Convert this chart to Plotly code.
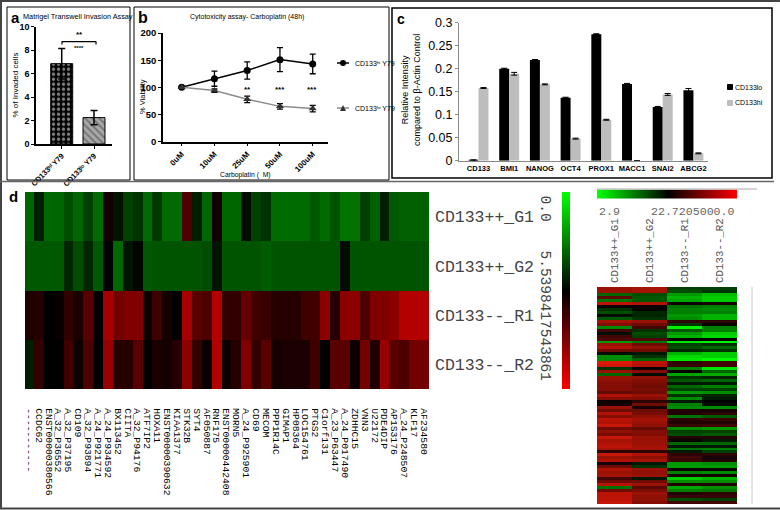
import plotly.graph_objects as go

W, H = 780, 510

# Panel a
a_cats = ["CD133ʰⁱ Y79", "CD133ˡᵒ Y79"]
a_vals = [6.85, 2.25]
a_errs = [1.3, 0.6]
# Panel b
b_cats = ["0uM", "10uM", "25uM", "50uM", "100uM"]
b_hi = [100, 116, 131, 151, 143]
b_hi_err = [0, 14, 16, 22, 18]
b_lo = [100, 94, 78, 65, 61]
b_lo_err = [2, 3, 6, 5, 6]
# Panel c
c_cats = ["CD133", "BMI1", "NANOG", "OCT4", "PROX1", "MACC1", "SNAI2", "ABCG2"]
c_lo = [0.001, 0.2, 0.219, 0.137, 0.275, 0.167, 0.117, 0.153]
c_lo_err = [0.001, 0.001, 0.001, 0.001, 0.001, 0.001, 0.001, 0.004]
c_hi = [0.158, 0.189, 0.166, 0.048, 0.089, 0, 0.144, 0.016]
c_hi_err = [0.001, 0.003, 0.001, 0.001, 0.001, 0, 0.002, 0.001]
# Panel d, wide heatmap
d_labels = ["-----------", "CCDC62", "ENST00000380566", "A_32_P36552", "A_32_P37195", "CD109",
            "A_32_P93894", "A_24_P921771", "A_24_P934592", "BX113452", "CIITA", "A_32_P94176",
            "ATF7IP2", "HOXA11", "ENST00000390632", "KIAA1377", "STK32B", "SYT4", "AF050887",
            "RNF175", "ENST00000442408", "MORN5", "A_24_P925901", "CD69", "MECOM", "PPP1R14C",
            "GIMAP1", "HP08364", "LOC154761", "PTGS2", "C1orf131", "A_23_P63447", "A_24_P017490",
            "ZDHHC15", "VNN3", "U22172", "PDE4DIP", "AP1S3176", "A_24_P248507", "KLF17", "AF234580"]
d_rows = ["CD133++_G1", "CD133++_G2", "CD133--_R1", "CD133--_R2"]
d_g1 = [-.4, -.12, -.4, -.4, -.3, -.4, -.25, -.42, .08, -.08, -.25, -.2, -.42, -.22, -.42, -.42, .3, -.12,
        -.4, .08, -.4, -.4, -.05, -.25, -.2, -.42, -.42, -.42, -.42, -.35, -.42, -.33, -.45, -.45, -.25,
        -.38, -.12, -.35, -.38, -.38, -.38]
d_g2 = [-.35, -.35, -.35, -.35, -.15, -.3, -.15, -.35, -.01, -.4, -.08, -.02, -.35, -.33, -.33, -.33, -.33,
        -.33, -.3, -.08, -.33, -.33, -.33, -.33, -.36, -.33, -.33, -.33, -.33, -.33, -.33, -.33, -.05,
        -.33, -.33, -.33, -.33, -.33, -.33, -.33, -.33]
d_r1 = [.12, .15, 0, .03, .2, .1, .35, .02, .65, .45, .5, .5, .05, .25, .08, 0, .65, .35, .3, .7, .2, .2, .4,
        .25, .22, .15, .15, .15, .25, .25, .55, .15, .55, .55, .3, .5, .5, .55, .7, .7, .7]
d_r2 = [-.12, .2, 0, 0, .25, .05, .3, 0, .6, .15, .15, .35, 0, .1, .08, .15, .55, .2, .03, .7, .05, .15, .5,
        .2, .35, .08, .1, .1, .1, .25, 0, .35, .35, .05, .45, .12, .6, .35, .3, .45, .45]
# Colour-key stops
key_stops = [-1, -0.5, 0, 0.5, 1]
# Panel d, tall heatmap
e_cols = ["CD133++_G1", "CD133++_G2", "CD133--_R1", "CD133--_R2"]
e_g1 = [.7, .7, -.4, .4, -.45, .85, .05, -.2, -.3, -.05, -.35, .75, .6, -.55, .3, -.05, .3, .35, -.6, .7, .8, .5,
        -.05, -.55, -.55, 1, .95, -.2, .7, -.4, .7, .65, .6, .6, .6, .45, .8, .6, .05, .1, .7, .5, .8, .6, .85,
        .8, .9, .5, .65, .55, .9, .75, .8, .85, .75, .2, .9, .7, .8, .1, .5, .8, .7, .75, .3, .5, .85, -.45,
        .5, .85, .85, .85, .9]
e_g2 = [.75, .75, -.3, -.35, -.35, .8, .05, -.02, -.15, -.15, -.2, .7, .5, .3, -.2, -.3, -.25, .35, -.45, .5, .65,
        .5, -.1, -.2, -.4, .85, .8, .05, .6, -.05, .65, .6, .55, .5, .55, .5, .7, .6, .2, .5, .1, .5, .55, .65,
        .75, .7, .65, .45, .6, .6, .7, .7, .7, .75, .75, .2, .8, .65, .75, -.1, -.2, .7, .65, .7, -.1, .5, .7,
        .4, .55, .7, .65, .65, .6]
e_r1 = [-.25, -.3, -.6, -.7, -.65, .05, -.45, -.5, -.5, -.6, -.55, .2, -.2, -.95, -.35, -.6, -.7, .02, -.9, -.25,
        -.3, -.15, -.7, -.85, -.9, .2, .25, -.5, .02, -.65, -.2, -.35, -.1, -.4, -.25, -.6, -.2, -.55, -.1, -.5,
        -.55, .15, .15, -.45, .2, .15, .25, -.55, -.25, -.3, .15, .05, -.4, -.1, -.45, -.1, .2, .3, .25, -.6,
        -.6, .05, -.5, .1, -.8, -.55, .15, -.65, -.5, .15, .25, -.3, .3]
e_r2 = [-.25, -.2, -.75, -.8, -.8, .1, -.5, -.55, -.5, -.7, -.7, .2, .05, -.5, -.5, -.8, -.85, .02, -.95, -.2, -.4,
        -.2, -.8, -.8, -.98, .3, .3, -.9, -.4, -.65, -.15, -.4, -.1, -.5, -.25, -.55, -.15, -.1, 0, -.05, -.55,
        .1, .2, -.35, .25, .15, .3, -.6, -.25, -.35, .15, -.1, -.4, -.1, -.5, -.25, .2, .1, .15, -.55, -.6, .05,
        -.55, .1, -.7, -.55, .15, -.55, -.45, .2, .25, -.25, .3]
e_rows = list(range(len(e_g1)))

RED_GREEN = [[0, "#00ff00"], [0.5, "#000000"], [1, "#ff0000"]]
RED_GREEN_TALL = [[0, "#00ff00"], [0.5, "#000000"], [1, "#dc1808"]]
SANS = "Liberation Sans, Arial, sans-serif"
MONO = "Liberation Mono, Courier New, monospace"


def px(x):
    return x / W


def py(y):
    return 1 - y / H


def dom_x(a, b):
    return [px(a), px(b)]


def dom_y(top, bottom):
    return [py(bottom), py(top)]


fig = go.Figure()

# Panel a
fig.add_bar(x=list(range(2)), y=a_vals, width=0.68, xaxis="x", yaxis="y",
            error_y=dict(type="data", array=a_errs, color="black", thickness=1.5, width=3.5),
            marker=dict(color=["black", "#a8a8a8"], line=dict(color="black", width=1),
                        pattern=dict(shape=[".", "\\"], fgcolor="white", bgcolor=["black", "#a8a8a8"],
                                     size=[5, 5], solidity=[0.35, 0.4])))
# Panel b
fig.add_scatter(x=list(range(5)), y=b_hi, name="CD133hi Y79", xaxis="x2", yaxis="y2", mode="lines+markers",
                line=dict(color="black", width=1.5), marker=dict(symbol="circle", size=7, color="black"),
                error_y=dict(type="data", array=b_hi_err, color="black", thickness=1.3, width=3))
fig.add_scatter(x=list(range(5)), y=b_lo, name="CD133lo Y79", xaxis="x2", yaxis="y2", mode="lines+markers",
                line=dict(color="#8c8c8c", width=1.5), marker=dict(symbol="triangle-up", size=7, color="#333333"),
                error_y=dict(type="data", array=b_lo_err, color="black", thickness=1.3, width=3))
# Panel c
fig.add_bar(x=c_cats, y=c_lo, name="CD133lo", xaxis="x3", yaxis="y3", marker=dict(color="black", line_width=0),
            error_y=dict(type="data", array=c_lo_err, color="black", thickness=1, width=3))
fig.add_bar(x=c_cats, y=c_hi, name="CD133hi", xaxis="x3", yaxis="y3", marker=dict(color="#bdbdbd", line_width=0),
            error_y=dict(type="data", array=c_hi_err, color="black", thickness=1, width=3))
# Panel d heatmaps
fig.add_heatmap(z=[d_g1, d_g2, d_r1, d_r2], x=d_labels, y=d_rows, xaxis="x4", yaxis="y4",
                colorscale=RED_GREEN, zmin=-1, zmax=1, showscale=False)
fig.add_heatmap(z=[[v] for v in key_stops], xaxis="x5", yaxis="y5", colorscale=RED_GREEN,
                zmin=-1, zmax=1, showscale=False, zsmooth="best")
fig.add_heatmap(z=[key_stops], xaxis="x6", yaxis="y6", colorscale=RED_GREEN,
                zmin=-1, zmax=1, showscale=False, zsmooth="best")
fig.add_heatmap(z=[list(r) for r in zip(e_g1, e_g2, e_r1, e_r2)], x=e_cols, y=e_rows, xaxis="x7", yaxis="y7",
                colorscale=RED_GREEN_TALL, zmin=-1, zmax=1, showscale=False)


def axis_style(**kw):
    base = dict(showgrid=False, zeroline=False, showline=True, linecolor="black", linewidth=1.5,
                ticks="outside", ticklen=3, tickwidth=1.3, tickcolor="black")
    base.update(kw)
    return base


layout = dict(
    width=W, height=H, margin=dict(l=0, r=0, t=0, b=0, autoexpand=False), autosize=False,
    paper_bgcolor="white", plot_bgcolor="white", showlegend=False, barmode="group", bargap=0.35, bargroupgap=0,
    xaxis=axis_style(domain=dom_x(36, 112), range=[-0.796, 1.557], anchor="y", tickvals=[0, 1], ticktext=a_cats,
                     tickangle=-45, tickfont=dict(family=SANS, size=7.5, color="black", weight="bold")),
    yaxis=axis_style(domain=dom_y(26.7, 144), range=[0, 10], anchor="x", tickvals=[0, 2, 4, 6, 8, 10],
                     tickfont=dict(family=SANS, size=9, color="black", weight="bold")),
    xaxis2=axis_style(domain=dom_x(163, 328), range=[-0.571, 4.467], anchor="y2", tickvals=list(range(5)),
                      ticktext=b_cats, tickangle=-45, tickfont=dict(family=SANS, size=8, color="black", weight="bold")),
    yaxis2=axis_style(domain=dom_y(33, 141.7), range=[0, 200], anchor="x2", tickvals=[0, 50, 100, 150, 200],
                      tickfont=dict(family=SANS, size=9.5, color="black", weight="bold")),
    xaxis3=axis_style(domain=dom_x(459, 708), range=[-0.635, 7.475], anchor="y3", linecolor="#8a8a8a", linewidth=1,
                      ticks="", tickfont=dict(family=SANS, size=7.5, color="black", weight="bold")),
    yaxis3=axis_style(domain=dom_y(22.7, 160.7), range=[0, 0.3], anchor="x3", linecolor="#8a8a8a", linewidth=1,
                      tickcolor="#8a8a8a", tickwidth=1, tickvals=[0, 0.05, 0.1, 0.15, 0.2, 0.25, 0.3],
                      ticktext=["0", "0.05", "0.1", "0.15", "0.2", "0.25", "0.3"],
                      tickfont=dict(family=SANS, size=12.5, color="black")),
    xaxis4=dict(domain=dom_x(25, 429), range=[-0.4, 40.5], anchor="y4", type="category", showgrid=False,
                zeroline=False, ticks="", tickangle=90, ticklabelstandoff=18, tickmode="array",
                tickvals=d_labels, ticktext=d_labels, tickfont=dict(family=MONO, size=9.7, color="black")),
    yaxis4=dict(domain=dom_y(192, 389.3), autorange="reversed", anchor="x4", side="right", type="category",
                showgrid=False, zeroline=False, ticks="", ticklabelstandoff=5,
                tickfont=dict(family=MONO, size=16.5, color="#444444")),
    xaxis5=dict(domain=dom_x(562, 570), visible=False, anchor="y5"),
    yaxis5=dict(domain=dom_y(192, 389), range=[4, 0], visible=False, anchor="x5"),
    xaxis6=dict(domain=dom_x(597, 737), range=[0, 4], visible=False, anchor="y6"),
    yaxis6=dict(domain=dom_y(189.5, 199), visible=False, anchor="x6"),
    xaxis7=dict(domain=dom_x(597, 737), anchor="y7", side="top", type="category", showgrid=False, zeroline=False,
                ticks="", tickangle=-90, ticklabelstandoff=3, tickfont=dict(family=MONO, size=10.8, color="#555555")),
    yaxis7=dict(domain=dom_y(287, 504), autorange="reversed", visible=False, anchor="x7"),
)
fig.update_layout(**layout)


def note(text, x, y, size=8, family=SANS, color="black", bold=False, angle=0, xanchor="center", yanchor="middle"):
    fig.add_annotation(text=text, x=px(x), y=py(y), xref="paper", yref="paper", showarrow=False, textangle=angle,
                       xanchor=xanchor, yanchor=yanchor,
                       font=dict(family=family, size=size, color=color, weight="bold" if bold else "normal"))


def frame(x0, y0, x1, y1, color="black", width=1, fill="rgba(0,0,0,0)"):
    fig.add_shape(type="rect", xref="paper", yref="paper", x0=px(x0), x1=px(x1), y0=py(y0), y1=py(y1),
                  line=dict(color=color, width=width), fillcolor=fill)


def rule(x0, y0, x1, y1, color="black", width=1):
    fig.add_shape(type="line", xref="paper", yref="paper", x0=px(x0), x1=px(x1), y0=py(y0), y1=py(y1),
                  line=dict(color=color, width=width))


# Frames
rule(1, 0, 1, 509, "#444444", 2)
rule(0, 1, 780, 1, "#444444", 2)
rule(0, 508.5, 780, 508.5, "#444444", 2)
rule(0, 181.5, 774, 181.5, "#666666", 1.5)
frame(7, 7, 130, 180)
frame(134, 7, 389, 180)
frame(392, 8, 772, 178, "black", 1.5)

# Panel a text
note("a", 15, 18, 15, bold=True)
note("Matrigel Transwell Invasion Assay", 78, 17, 7.3)
note("% of Invaded cells", 15.5, 85, 8, angle=-90)
rule(62, 41.7, 96, 41.7, "black", 1.2)
rule(62, 41.2, 62, 44.5, "black", 1.2)
rule(96, 41.2, 96, 44.5, "black", 1.2)
note("**", 79, 35, 8, bold=True)
note("****", 79, 47.5, 6, bold=True)

# Panel b text
note("b", 143, 18, 16, bold=True)
note("Cytotoxicity assay- Carboplatin (48h)", 247, 17, 7)
note("% Viability", 142, 97, 7.5, angle=-90)
note("Carboplatin (  M)", 245, 175, 6.8)
note("**", 247, 89, 8, bold=True)
note("***", 280, 89, 8, bold=True)
note("***", 312, 89, 8, bold=True)
rule(337, 63, 349, 63, "black", 1.5)
fig.add_shape(type="circle", xref="paper", yref="paper", x0=px(340), x1=px(346), y0=py(66), y1=py(60),
              fillcolor="black", line_width=0)
note("CD133ʰⁱ Y79", 353, 63, 7, xanchor="left")
rule(337, 108, 349, 108, "#8c8c8c", 1.5)
fig.add_shape(type="path", xref="paper", yref="paper",
              path=f"M {px(340)} {py(111)} L {px(346)} {py(111)} L {px(343)} {py(105)} Z",
              fillcolor="#333333", line_width=0)
note("CD133ˡᵒ Y79", 353, 108, 7, xanchor="left")

# Panel c text
note("c", 401, 19, 14, bold=True)
note("Relative Intensity<br>compared to β-Actin Control", 411, 90, 9, angle=-90)
frame(727.5, 84.5, 732.5, 89.5, "black", 1, "black")
note("CD133lo", 733, 87, 7, xanchor="left")
frame(727.5, 100.5, 732.5, 105.5, "#bdbdbd", 1, "#bdbdbd")
note("CD133hi", 733, 103, 7, xanchor="left")

# Panel d text
note("d", 14, 197, 15, bold=True)
note("0.0", 545, 193.5, 14.5, family=MONO, color="#444444", angle=90, yanchor="top")
note("5.5398417543861", 545, 248, 14.5, family=MONO, color="#444444", angle=90, yanchor="top")
note("2.9", 597, 211, 11.6, family=MONO, color="#666666", xanchor="left")
note("22.7205000.0", 737, 211, 11.6, family=MONO, color="#666666", xanchor="right")
rule(597, 189, 757, 189, "#aaaaaa", 1)
rule(752, 287, 752, 504, "#dddddd", 1.5)

fig.write_html("out.html", config={"displayModeBar": False},
               post_script="document.body.style.margin='0';document.documentElement.style.margin='0';")
